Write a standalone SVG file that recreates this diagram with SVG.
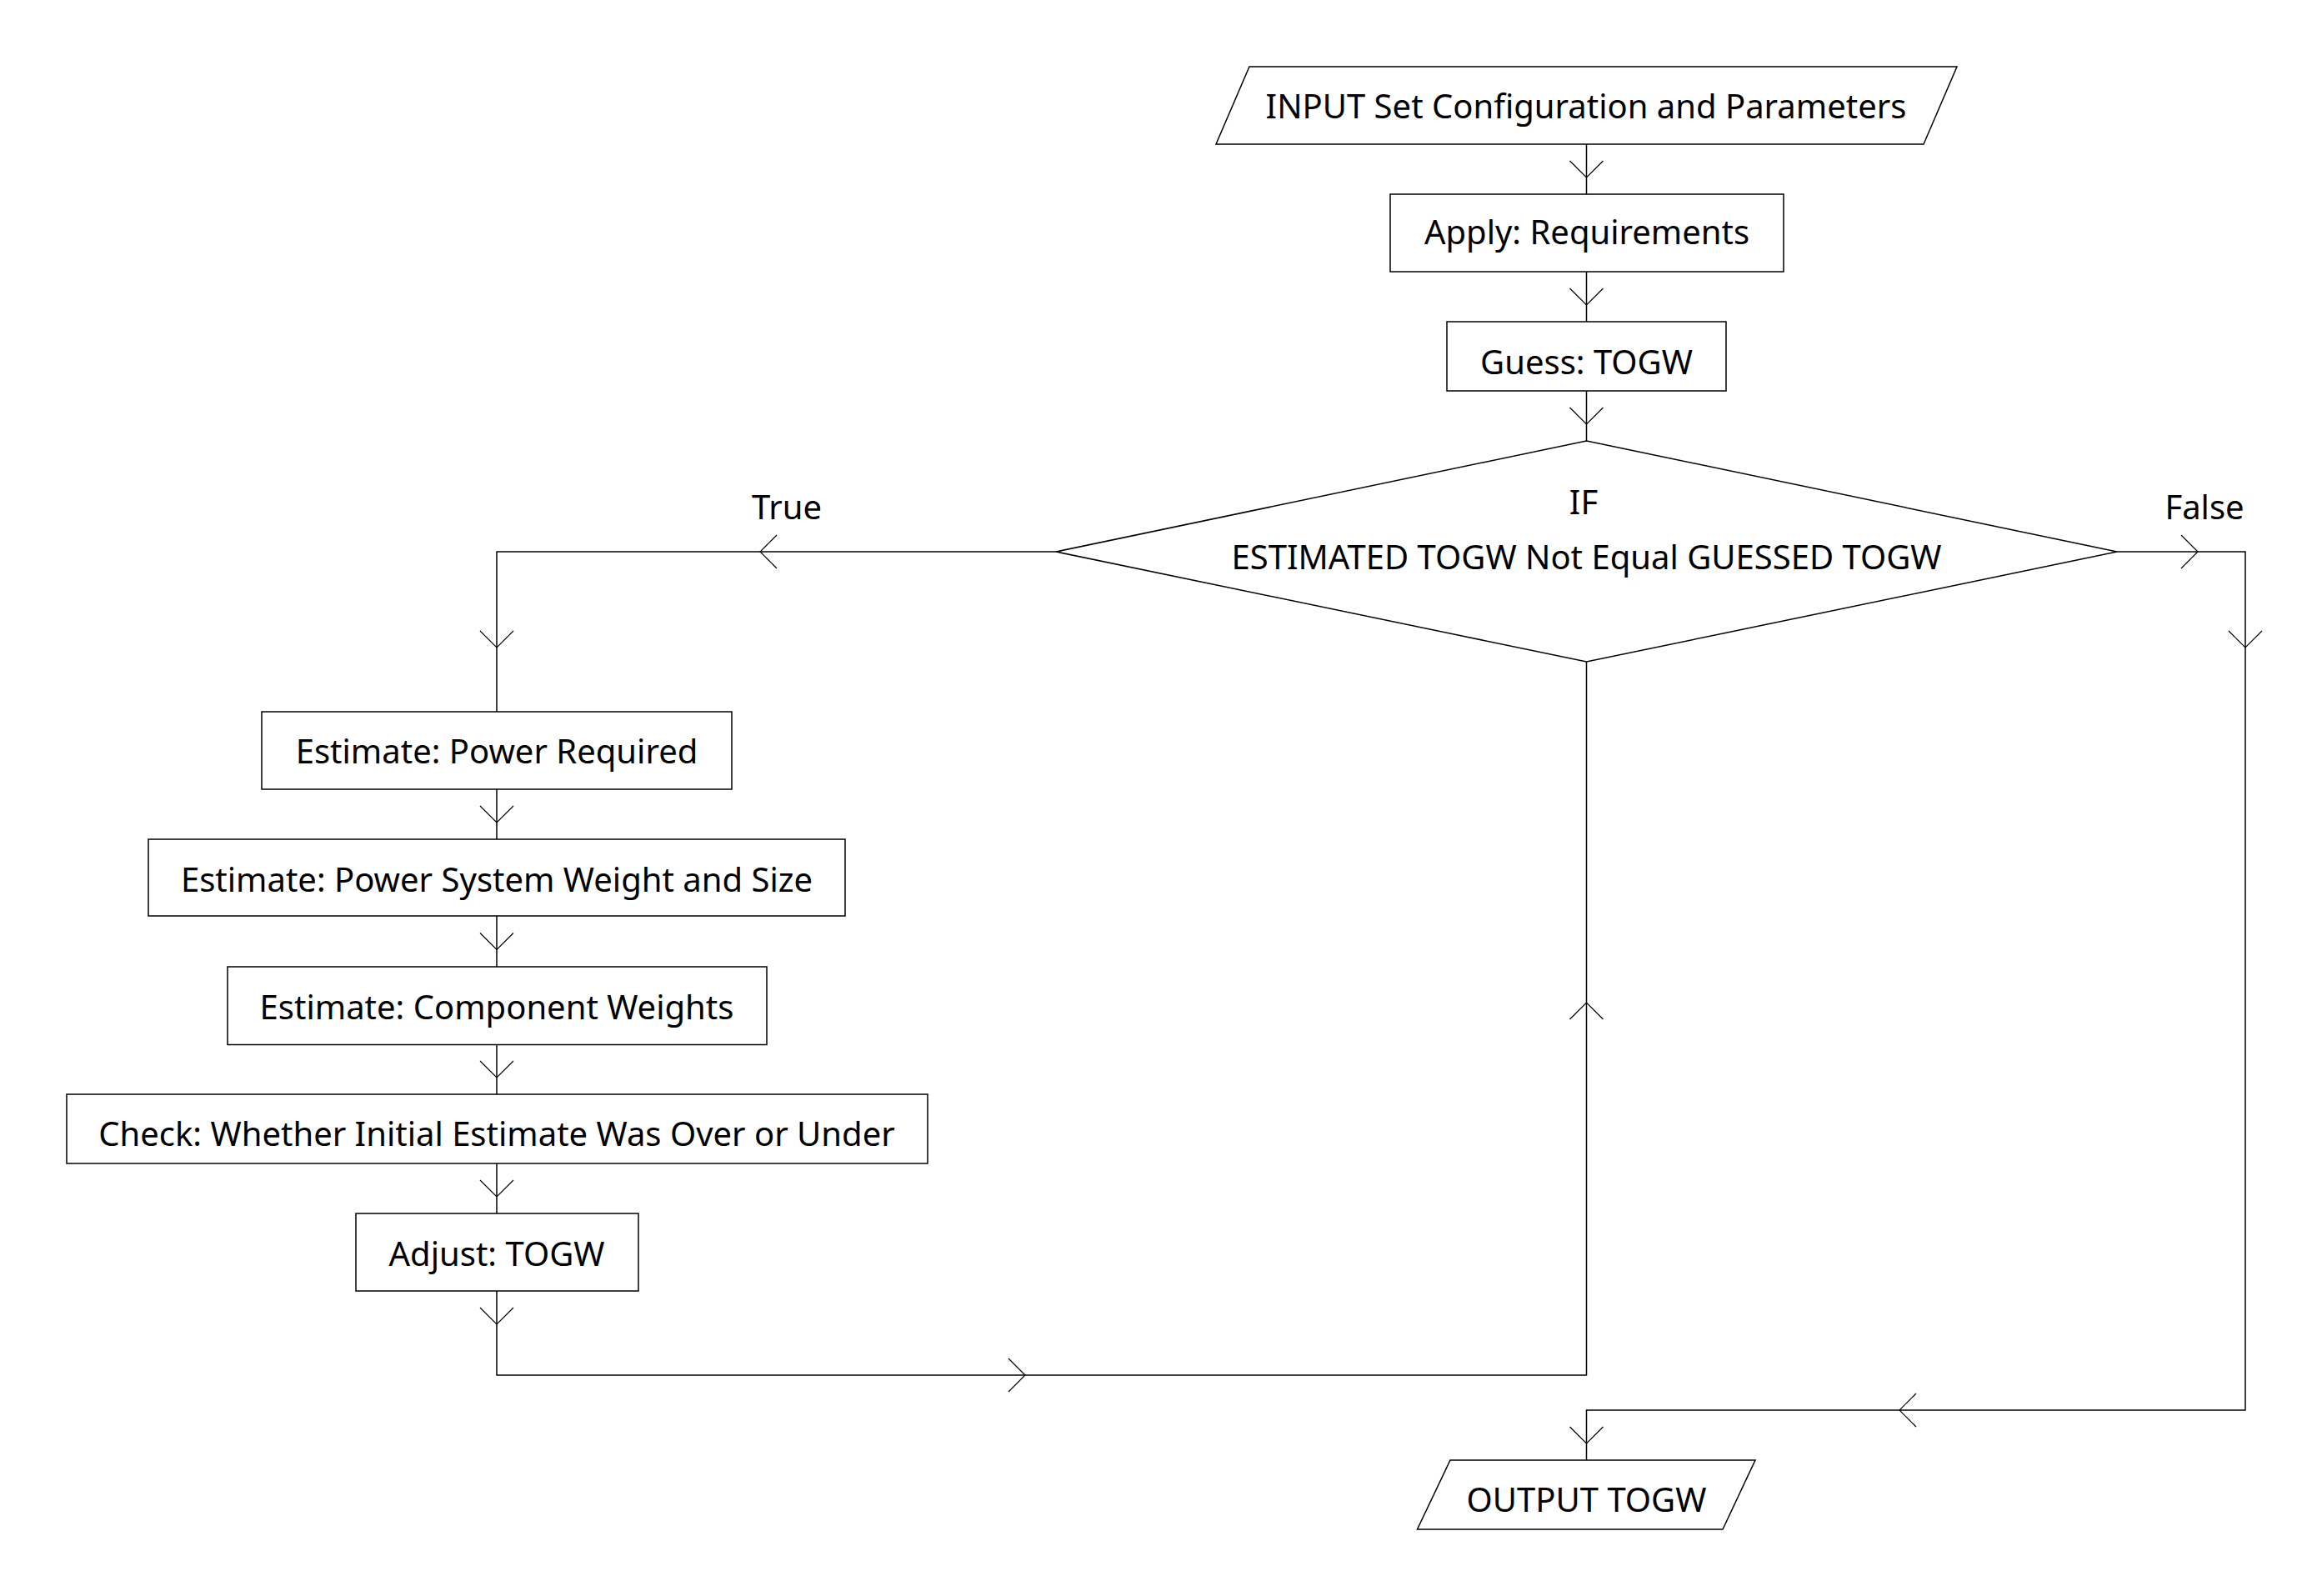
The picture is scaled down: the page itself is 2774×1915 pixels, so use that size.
<svg xmlns="http://www.w3.org/2000/svg" xmlns:xlink="http://www.w3.org/1999/xlink" width="2774" height="1915" viewBox="0 0 2774 1915">
<style>
.shape{fill:#ffffff;stroke:#000000;stroke-width:1.5}
.line{fill:none;stroke:#000000;stroke-width:1.5}
.head{fill:none;stroke:#000000;stroke-width:1.2}
.t{font-family:"Noto Sans","Open Sans","DejaVu Sans",sans-serif;font-size:40px;fill:#000000;text-anchor:middle}
</style>
<defs>
<path id="ah" d="M-20,-20 L0,0 L-20,20"/>
</defs>
<rect x="0" y="0" width="2774" height="1915" fill="#ffffff"/>
<g id="connectors">
<path class="line" d="M1903.5,173 V233"/>
<path class="line" d="M1903.5,326 V386"/>
<path class="line" d="M1903.5,469 V529"/>
<path class="line" d="M1267,662 H596 V854"/>
<path class="line" d="M596,947 V1007"/>
<path class="line" d="M596,1099 V1160"/>
<path class="line" d="M596,1253.5 V1313"/>
<path class="line" d="M596,1396 V1456"/>
<path class="line" d="M596,1549 V1650 H1903.5 V794"/>
<path class="line" d="M2540,662 H2694 V1692 H1903.5 V1752"/>
<g class="head">
<use xlink:href="#ah" transform="translate(1903.5,213) rotate(90)"/>
<use xlink:href="#ah" transform="translate(1903.5,366) rotate(90)"/>
<use xlink:href="#ah" transform="translate(1903.5,509) rotate(90)"/>
<use xlink:href="#ah" transform="translate(912,662) rotate(180)"/>
<use xlink:href="#ah" transform="translate(596,777) rotate(90)"/>
<use xlink:href="#ah" transform="translate(596,987) rotate(90)"/>
<use xlink:href="#ah" transform="translate(596,1139.5) rotate(90)"/>
<use xlink:href="#ah" transform="translate(596,1293) rotate(90)"/>
<use xlink:href="#ah" transform="translate(596,1436) rotate(90)"/>
<use xlink:href="#ah" transform="translate(596,1589) rotate(90)"/>
<use xlink:href="#ah" transform="translate(1230,1650)"/>
<use xlink:href="#ah" transform="translate(1903.5,1203) rotate(-90)"/>
<use xlink:href="#ah" transform="translate(2637,662)"/>
<use xlink:href="#ah" transform="translate(2694,777) rotate(90)"/>
<use xlink:href="#ah" transform="translate(2279,1692) rotate(180)"/>
<use xlink:href="#ah" transform="translate(1903.5,1732) rotate(90)"/>
</g>
<text class="t" x="944" y="623">True</text>
<text class="t" x="2645" y="623">False</text>
</g>
<g id="input">
<polygon class="shape" points="1499,80 2348,80 2308,173 1459,173"/>
<text class="t" x="1903" y="142">INPUT Set Configuration and Parameters</text>
</g>
<g id="apply">
<rect class="shape" x="1668" y="233" width="472" height="93"/>
<text class="t" x="1904" y="293">Apply: Requirements</text>
</g>
<g id="guess">
<rect class="shape" x="1736" y="386" width="335" height="83"/>
<text class="t" x="1903.5" y="449">Guess: TOGW</text>
</g>
<g id="decision">
<polygon class="shape" points="1903.5,529 2540,662 1903.5,794 1267,662"/>
<text class="t" x="1900" y="617">IF</text>
<text class="t" x="1903.5" y="683">ESTIMATED TOGW Not Equal GUESSED TOGW</text>
</g>
<g id="power-required">
<rect class="shape" x="314" y="854" width="564" height="93"/>
<text class="t" x="596" y="916">Estimate: Power Required</text>
</g>
<g id="power-system">
<rect class="shape" x="178" y="1007" width="836" height="92"/>
<text class="t" x="596" y="1070">Estimate: Power System Weight and Size</text>
</g>
<g id="component-weights">
<rect class="shape" x="273" y="1160" width="647" height="93.5"/>
<text class="t" x="596" y="1223">Estimate: Component Weights</text>
</g>
<g id="check">
<rect class="shape" x="80" y="1313" width="1033" height="83"/>
<text class="t" x="596" y="1375">Check: Whether Initial Estimate Was Over or Under</text>
</g>
<g id="adjust">
<rect class="shape" x="427" y="1456" width="339" height="93"/>
<text class="t" x="596" y="1519">Adjust: TOGW</text>
</g>
<g id="output">
<polygon class="shape" points="1740,1752 2106,1752 2067,1835 1700.5,1835"/>
<text class="t" x="1903.5" y="1814">OUTPUT TOGW</text>
</g>
</svg>
